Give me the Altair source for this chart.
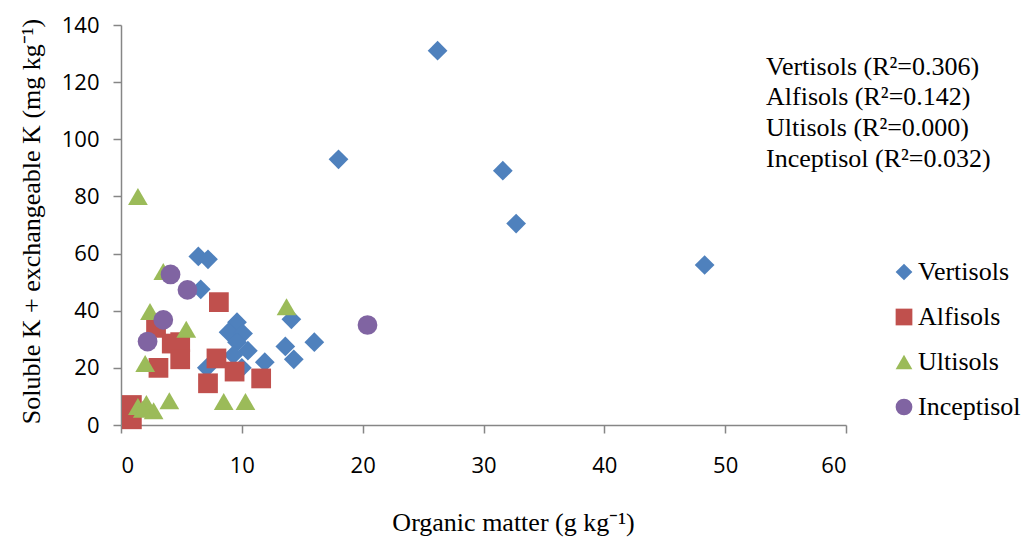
import altair as alt
import pandas as pd

# Soil orders, their marker colours and shapes
soil_names = ["Vertisols", "Alfisols", "Ultisols", "Inceptisol"]
soil_colors = ["#4F81BD", "#C0504D", "#9BBB59", "#8064A2"]
soil_shapes = ["diamond", "square", "triangle-up", "circle"]

# Organic matter (g/kg) and soluble + exchangeable K (mg/kg) per soil order
vert_om = [26.2, 18.0, 31.6, 32.7, 48.3, 6.4, 7.2, 6.6, 9.6, 8.9, 10.1,
           9.6, 10.5, 9.3, 11.9, 7.1, 10.0, 14.1, 13.6, 14.3, 16.0]
vert_k = [131, 93, 89, 70.5, 56, 59, 58, 47.5, 36, 32.5, 32,
          29, 26, 24.5, 22, 20, 20, 37, 27.5, 23, 29]

alf_om = [0.9, 0.9, 2.9, 4.2, 4.9, 4.9, 3.1, 8.1, 7.9, 9.4, 7.2, 11.6]
alf_k = [7, 2, 34, 28.5, 29, 23, 20, 43, 23.3, 18.7, 14.6, 16.3]

ult_om = [1.4, 3.5, 2.4, 5.4, 2.0, 4.0, 1.4, 2.1, 2.7, 1.8, 8.5, 10.3, 13.7]
ult_k = [80, 53.7, 39.7, 33.5, 21.5, 8.5, 6.5, 7.5, 5.0, 5.5, 8.2, 8.2, 41.4]

inc_om = [4.1, 5.5, 3.5, 2.2, 20.4]
inc_k = [52.7, 47.3, 36.8, 29.2, 35]

r2_values = ["0.306", "0.142", "0.000", "0.032"]

x_ticks = [0, 10, 20, 30, 40, 50, 60]
y_ticks = [0, 20, 40, 60, 80, 100, 120, 140]

series = [(vert_om, vert_k), (alf_om, alf_k), (ult_om, ult_k), (inc_om, inc_k)]
rows = []
for name, (oms, ks) in zip(soil_names, series):
    for om, k in zip(oms, ks):
        rows.append({"soil": name, "om": om, "k": k})
df = pd.DataFrame(rows)

legend_cfg = dict(title=None, orient="none", legendX=770, legendY=234)

points = alt.Chart(df).mark_point(
    filled=True, opacity=1, size=390, strokeWidth=0
).encode(
    x=alt.X(
        "om:Q",
        scale=alt.Scale(domain=[0, 60], nice=False),
        axis=alt.Axis(
            values=x_ticks,
            title="Organic matter (g kg⁻¹)",
            titleX=392,
            titleY=97,
            titleBaseline="middle",
            labelPadding=22,
        ),
    ),
    y=alt.Y(
        "k:Q",
        scale=alt.Scale(domain=[0, 140], nice=False),
        axis=alt.Axis(
            values=y_ticks,
            title="Soluble K + exchangeable K (mg kg⁻¹)",
            titleX=-90,
            titleY=196,
            titleAngle=270,
            titleBaseline="middle",
            labelPadding=14,
        ),
    ),
    color=alt.Color(
        "soil:N",
        scale=alt.Scale(domain=soil_names, range=soil_colors),
        legend=alt.Legend(**legend_cfg),
    ),
    shape=alt.Shape(
        "soil:N",
        scale=alt.Scale(domain=soil_names, range=soil_shapes),
        legend=alt.Legend(**legend_cfg),
    ),
)

# R² summary block in the upper right
r2_text = "\n".join(f"{n} (R²={v})" for n, v in zip(soil_names, r2_values))
notes = alt.Chart(pd.DataFrame({"t": [r2_text]})).mark_text(
    align="left",
    baseline="alphabetic",
    font="Liberation Serif",
    fontSize=26,
    lineHeight=30.7,
    lineBreak="\n",
    color="#000000",
).encode(x=alt.value(645), y=alt.value(49.5), text="t:N")

chart = (
    alt.layer(points, notes)
    .properties(
        width=725,
        height=400,
        autosize=alt.AutoSizeParams(type="none"),
        padding={"left": 121, "top": 25, "right": 181, "bottom": 113},
        background="#FFFFFF",
    )
    .configure_view(stroke=None)
    .configure_axis(
        grid=False,
        domainColor="#868686",
        domainWidth=1.5,
        tickColor="#868686",
        tickWidth=1.5,
        tickSize=8,
        labelFont="Open Sans",
        labelFontSize=22,
        labelColor="#000000",
        titleFont="Liberation Serif",
        titleFontSize=26,
        titleFontWeight="normal",
        titleColor="#000000",
    )
    .configure_legend(
        labelFont="Liberation Serif",
        labelFontSize=26,
        labelColor="#000000",
        symbolSize=280,
        symbolStrokeWidth=0,
        symbolOpacity=1,
        rowPadding=19,
        labelOffset=1,
        padding=0,
    )
)

chart.save("out.html", embed_options={"renderer": "svg", "actions": False})
